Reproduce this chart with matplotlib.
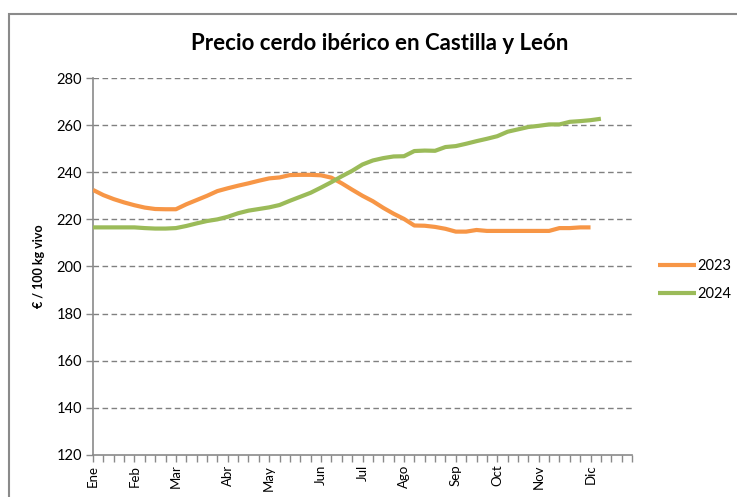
import matplotlib
matplotlib.use("Agg")
import matplotlib.pyplot as plt
from matplotlib.patches import Rectangle

# weekly prices, euros / 100 kg vivo
precio_2023 = [232.5, 230.3, 228.6, 227.2, 226.0, 225.0, 224.4, 224.3, 224.3, 226.4,
               228.2, 230.0, 232.0, 233.2, 234.3, 235.3, 236.4, 237.4, 237.8, 238.8,
               238.9, 238.9, 238.7, 237.7, 235.3, 232.6, 230.0, 227.7, 224.9, 222.4,
               220.2, 217.4, 217.3, 216.8, 216.0, 214.8, 214.8, 215.5, 215.1, 215.1,
               215.1, 215.1, 215.1, 215.1, 215.1, 216.3, 216.3, 216.6, 216.6]
precio_2024 = [216.6, 216.6, 216.6, 216.6, 216.6, 216.3, 216.1, 216.1, 216.3, 217.2,
               218.3, 219.3, 220.0, 221.1, 222.6, 223.7, 224.4, 225.1, 226.1, 227.9,
               229.6, 231.3, 233.5, 235.8, 238.3, 240.6, 243.3, 245.0, 246.0, 246.7,
               246.8, 249.0, 249.2, 249.1, 250.7, 251.1, 252.1, 253.2, 254.2, 255.3,
               257.2, 258.2, 259.2, 259.7, 260.3, 260.3, 261.4, 261.7, 262.1, 262.7]

meses = ["Ene", "Feb", "Mar", "Abr", "May", "Jun", "Jul", "Ago", "Sep", "Oct", "Nov", "Dic"]
semana_mes = [0, 4, 8, 13, 17, 22, 26, 30, 35, 39, 43, 48]
n_semanas = 53

plt.rcParams['font.family'] = ['Lato', 'DejaVu Sans']

fig = plt.figure(figsize=(7.37, 4.97), dpi=100)
ax = fig.add_axes([93/737, 1 - 455/497, 539/737, 377/497])

# chart area border
fig.patches.append(Rectangle((9/737, -0.1), 1.0, 1.1 - 13.5/497, transform=fig.transFigure,
                             fill=False, edgecolor="#8a8a8a", linewidth=1.5))

ax.plot(range(len(precio_2023)), precio_2023, color="#F79646", lw=3, label="2023",
        solid_capstyle="butt", zorder=3)
ax.plot(range(len(precio_2024)), precio_2024, color="#9BBB59", lw=3, label="2024",
        solid_capstyle="butt", zorder=3)

ax.set_ylim(120, 280)
ax.set_yticks(range(120, 281, 20))
ax.set_xlim(0, n_semanas - 1)
ax.set_xticks(range(n_semanas))
labels = [""] * n_semanas
for m, s in zip(meses, semana_mes):
    labels[s] = m
ax.set_xticklabels(labels, rotation=90, fontsize=9.5)

for y in range(140, 281, 20):
    ax.axhline(y, color="#808080", lw=1, ls=(0, (4, 2.5)), zorder=1)

for s in ["top", "right"]:
    ax.spines[s].set_visible(False)
for s in ["left", "bottom"]:
    ax.spines[s].set_color("#8a8a8a")
    ax.spines[s].set_linewidth(1.2)
ax.tick_params(axis="both", color="#8a8a8a", length=5, width=1)
ax.tick_params(axis="y", labelsize=10.5, pad=3)
ax.tick_params(axis="x", pad=2)

ax.set_ylabel("€ / 100 kg vivo", fontsize=9, fontweight="bold", labelpad=8)
fig.suptitle("Precio cerdo ibérico en Castilla y León", fontsize=16, fontweight="bold",
             x=0.515, y=1 - 33/497)

ax.legend(loc="center left", bbox_to_anchor=(645/737, 1 - 280/497), bbox_transform=fig.transFigure,
          frameon=False, fontsize=10.5, handlelength=2.6, handletextpad=0.1, labelspacing=1.0)

fig.savefig("out.png", dpi=100)
